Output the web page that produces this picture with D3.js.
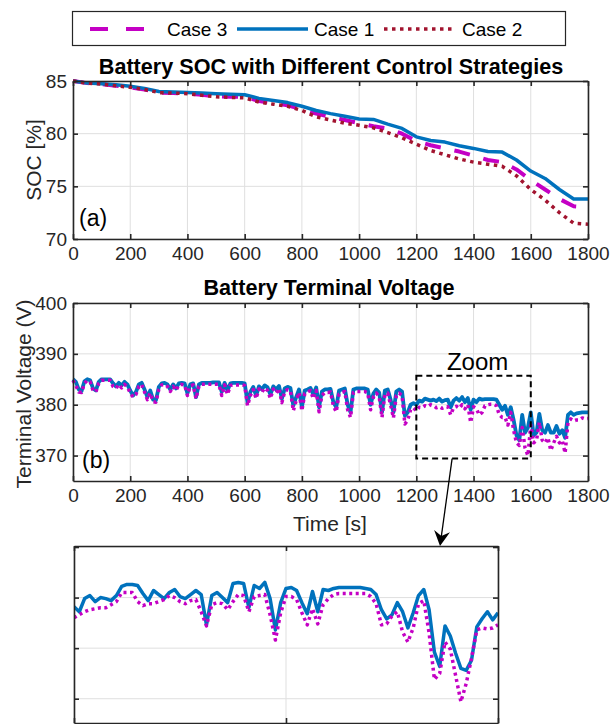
<!DOCTYPE html>
<html><head><meta charset="utf-8">
<script src="https://cdn.jsdelivr.net/npm/d3@7"></script>
<style>
body{margin:0;background:#fff;}
svg{display:block;font-family:"Liberation Sans",Arial,Helvetica,sans-serif;}
</style></head><body>
<svg id="chart" width="612" height="724"></svg>
<script>
// ---------------- DATA ----------------
const seriesNames = ["Case 3", "Case 1", "Case 2"];
const xTicks = [0,200,400,600,800,1000,1200,1400,1600,1800];
const socTicks = [70,75,80,85];
const voltTicks = [370,380,390,400];
const insetYTicks = [370,375,380,385];
const insetXTicks = [1200,1400,1600];

// SOC sampled every 50 s
const socTime = d3.range(0, 1801, 50);
const socCase1 = [85.0,84.8,84.75,84.65,84.5,84.3,84.0,83.95,83.9,83.85,83.8,83.75,83.7,83.35,83.15,82.95,82.6,82.2,81.9,81.65,81.4,81.35,80.9,80.5,79.7,79.35,79.2,78.85,78.6,78.3,78.25,77.5,76.45,75.75,74.7,73.8,73.8];
const socCase3 = [85.0,84.8,84.7,84.55,84.4,84.2,83.9,83.85,83.8,83.7,83.55,83.5,83.5,83.1,82.9,82.7,82.3,81.9,81.6,81.3,81.0,80.7,80.5,80.0,79.3,78.9,78.6,78.3,77.9,77.5,77.3,76.6,75.6,74.7,73.8,73.1,73.0];
const socCase2 = [85.0,84.8,84.7,84.55,84.4,84.2,83.9,83.85,83.8,83.65,83.5,83.45,83.4,83.0,82.8,82.6,82.2,81.6,81.3,81.0,80.8,80.55,80.1,79.6,79.0,78.4,78.0,77.6,77.3,77.1,76.9,76.0,74.7,73.7,72.5,71.5,71.4];

// Terminal voltage sampled every 10 s
const voltTime = d3.range(0, 1801, 10);
const voltCase1 = [
385.0,384.5,383.0,382.7,384.6,385.0,384.8,383.2,382.8,384.5,
385.0,385.0,385.0,385.0,384.2,383.6,384.3,383.8,384.5,384.0,
382.8,381.8,382.5,384.0,384.3,383.0,381.5,382.8,381.0,380.9,
383.5,384.2,384.3,384.0,383.0,384.0,383.2,384.2,384.3,384.2,
382.2,384.0,384.2,381.5,384.0,384.3,384.3,384.3,384.3,384.4,
384.4,384.4,382.5,384.3,382.8,384.2,384.3,384.3,384.3,384.3,
384.2,380.5,382.5,383.5,381.8,383.6,383.0,383.8,383.4,382.0,
383.6,383.0,383.7,381.2,383.2,383.5,383.3,379.8,381.5,383.0,
379.5,382.8,383.0,383.3,382.0,383.4,379.5,382.6,383.0,383.0,
383.1,380.5,379.5,382.8,383.0,383.2,380.0,378.5,383.0,383.2,
383.2,383.2,383.2,383.0,380.0,382.2,383.0,382.4,378.5,382.8,
383.0,381.0,378.5,382.6,383.0,382.6,377.8,378.5,380.0,380.3,
380.0,380.8,380.6,381.2,381.0,380.8,381.0,380.7,381.2,380.6,
380.9,381.0,379.5,380.8,381.3,380.8,381.5,380.5,381.3,379.0,
381.0,380.5,381.2,381.0,381.1,381.1,381.1,381.1,381.0,380.0,
379.0,379.8,378.0,379.5,377.0,374.0,373.0,378.0,374.5,375.5,
378.5,374.0,374.5,378.2,375.0,374.5,376.0,374.5,374.5,375.8,
374.3,375.0,373.5,378.0,378.5,378.0,378.3,378.4,378.5,378.5,
378.5];
const voltCase3 = [
384.8,383.8,382.5,382.4,384.2,384.8,384.5,382.8,382.5,384.2,
384.8,384.8,384.8,384.8,383.6,383.2,384.0,383.3,384.0,383.5,
382.3,381.5,382.0,383.6,384.0,382.5,381.0,382.3,380.6,380.5,
383.0,383.9,384.0,383.6,382.6,383.6,382.8,383.9,384.0,383.9,
381.8,383.7,383.9,381.2,383.6,384.0,384.0,384.0,384.0,384.0,
384.0,384.0,381.8,383.9,382.0,383.8,383.9,383.9,383.9,383.9,
383.8,379.8,381.8,383.0,381.2,383.1,382.4,383.3,382.8,381.2,
383.1,382.3,383.2,380.4,382.6,383.0,382.7,378.8,380.8,382.4,
378.8,382.2,382.5,382.8,381.2,382.8,378.6,381.8,382.4,382.4,
382.5,379.8,378.6,382.1,382.4,382.6,379.0,377.5,382.4,382.6,
382.6,382.6,382.6,382.3,379.0,381.5,382.3,381.6,377.5,382.0,
382.3,380.0,377.4,381.8,382.3,381.8,376.2,377.0,379.0,379.4,
378.8,379.5,379.4,379.8,379.6,380.0,379.8,379.4,379.6,379.3,
379.5,379.6,378.0,379.4,379.7,379.3,380.0,379.2,380.0,376.5,
379.6,379.2,378.0,378.5,379.8,380.0,380.1,380.1,379.8,378.0,
377.5,377.5,376.0,378.5,375.0,372.5,372.0,375.5,371.5,370.0,
376.0,372.5,373.0,376.5,373.0,372.5,373.5,371.0,372.5,373.8,
372.5,373.0,370.5,376.5,377.2,376.8,377.0,377.0,377.4,377.2,
377.3];

// Zoomed window 1200-1600 s, sampled every 5 s
const insetTime = d3.range(1200, 1601, 5);
const insetCase1 = [
379.1,378.6,379.9,380.2,379.6,380.0,379.9,379.7,380.2,381.1,
381.3,381.3,381.2,380.4,379.7,380.7,380.3,379.9,380.5,380.8,
380.1,379.9,380.3,380.7,380.3,377.3,380.2,380.5,380.0,379.5,
381.4,381.5,381.4,379.0,381.2,380.9,381.5,379.9,376.8,379.5,
380.9,381.0,380.7,379.5,378.4,380.6,378.6,380.8,380.7,380.9,
381.0,381.0,381.0,381.0,381.0,380.9,380.8,380.3,378.8,377.9,
378.3,379.5,378.6,377.0,378.5,380.2,380.8,378.8,374.6,373.2,
377.2,376.2,374.5,373.0,372.8,373.8,377.1,377.9,378.6,377.8,
378.5];
const insetCase3 = [
378.0,378.3,378.6,378.8,378.9,379.0,379.0,379.3,379.6,380.5,
380.5,380.5,379.6,379.2,379.4,379.4,379.6,379.8,380.2,380.0,
379.6,379.4,379.7,379.8,378.6,377.2,379.3,379.5,379.4,378.8,
379.6,380.3,380.2,378.6,380.1,380.2,380.3,378.3,375.8,378.5,
380.1,380.1,379.8,378.5,377.3,378.9,377.4,379.3,379.9,380.3,
380.4,380.4,380.4,380.4,380.4,380.4,380.1,379.4,377.3,377.4,
378.2,378.6,376.6,375.6,377.0,379.4,379.7,376.5,371.9,372.5,
375.6,374.9,372.3,369.7,371.5,374.0,376.8,377.0,376.9,377.0,
377.3];

// zoom box in data coordinates [t0, t1, v0, v1]
const zoomBox = [1200, 1600, 369.4, 385.7];

// ---------------- STYLE ----------------
const C1 = "#0072BD", C3 = "#C400C4", C2 = "#A2142F";
const AX = "#262626", GRID = "#dfdfdf";
const svg = d3.select("#chart");

const xMain = d3.scaleLinear().domain([0,1800]).range([73,588]);
const ySoc = d3.scaleLinear().domain([70,85]).range([239,81]);
const yVolt = d3.scaleLinear().domain([365,400]).range([481,303]);
const xIn = d3.scaleLinear().domain([1200,1600]).range([74,498]);
const yIn = d3.scaleLinear().domain([367.6,385.1]).range([723,546]);

function grid(g, x, y, xt, yt){
  const [x0,x1] = x.range(), [y1,y0] = y.range();
  g.selectAll(".gx").data(xt).join("line")
    .attr("x1", d=>x(d)).attr("x2", d=>x(d)).attr("y1", y0).attr("y2", y1)
    .attr("stroke", GRID).attr("stroke-width", 1);
  g.selectAll(".gy").data(yt).join("line")
    .attr("class","gyl")
    .attr("y1", d=>y(d)).attr("y2", d=>y(d)).attr("x1", x0).attr("x2", x1)
    .attr("stroke", GRID).attr("stroke-width", 1);
}

function axes(g, x, y, xt, yt, xLab, yLab){
  const [x0,x1] = x.range(), [y1,y0] = y.range();
  const styleAx = sel => {
    sel.attr("font-size", null).attr("font-family", null);
    sel.select(".domain").attr("stroke", AX).attr("stroke-width", 1.6);
    sel.selectAll(".tick line").attr("stroke", AX).attr("stroke-width", 1.6);
    sel.selectAll(".tick text").attr("fill", AX).style("font-size", "19px");
  };
  g.append("g").attr("transform", `translate(0,${y1})`)
    .call(d3.axisBottom(x).tickValues(xt).tickSizeInner(-5).tickSizeOuter(0).tickPadding(8)
      .tickFormat(xLab ? d3.format("d") : ""))
    .call(styleAx);
  g.append("g").attr("transform", `translate(0,${y0})`)
    .call(d3.axisTop(x).tickValues(xt).tickSizeInner(-5).tickSizeOuter(0).tickFormat(""))
    .call(styleAx);
  g.append("g").attr("transform", `translate(${x0},0)`)
    .call(d3.axisLeft(y).tickValues(yt).tickSizeInner(-5).tickSizeOuter(0).tickPadding(6)
      .tickFormat(yLab ? d3.format("d") : ""))
    .call(styleAx);
  g.append("g").attr("transform", `translate(${x1},0)`)
    .call(d3.axisRight(y).tickValues(yt).tickSizeInner(-5).tickSizeOuter(0).tickFormat(""))
    .call(styleAx);
}

function line(g, xs, ys, x, y, color, width, dash){
  const data = xs.map((t,i)=>[t, ys[i]]);
  g.append("path").datum(data)
    .attr("fill","none").attr("stroke", color).attr("stroke-width", width)
    .attr("stroke-linejoin","round")
    .attr("stroke-dasharray", dash || null)
    .attr("d", d3.line().x(d=>x(d[0])).y(d=>y(d[1])));
}

// ---------------- PANEL (a) ----------------
const gA = svg.append("g");
grid(gA, xMain, ySoc, xTicks, socTicks);
line(gA, socTime, socCase3, xMain, ySoc, C3, 4, "16,14");
line(gA, socTime, socCase1, xMain, ySoc, C1, 3.5);
line(gA, socTime, socCase2, xMain, ySoc, C2, 3.5, "3.5,4.5");
axes(gA, xMain, ySoc, xTicks, socTicks, true, true);
gA.append("text").attr("x", 331).attr("y", 74).attr("text-anchor","middle")
  .attr("font-weight","bold").attr("font-size", 21.6).attr("fill","#000")
  .text("Battery SOC with Different Control Strategies");
gA.append("text").attr("transform","translate(41,160) rotate(-90)").attr("text-anchor","middle")
  .attr("font-size", 21).attr("fill", AX).text("SOC [%]");
gA.append("text").attr("x", 79).attr("y", 226).attr("font-size", 23).attr("fill","#000").text("(a)");

// ---------------- PANEL (b) ----------------
const gB = svg.append("g");
grid(gB, xMain, yVolt, xTicks, voltTicks);
line(gB, voltTime, voltCase1, xMain, yVolt, C1, 3.8);
line(gB, voltTime, voltCase3, xMain, yVolt, C3, 3.5, "3,3.5");
axes(gB, xMain, yVolt, xTicks, voltTicks, true, true);
gB.append("text").attr("x", 329).attr("y", 295).attr("text-anchor","middle")
  .attr("font-weight","bold").attr("font-size", 21.6).attr("fill","#000")
  .text("Battery Terminal Voltage");
gB.append("text").attr("transform","translate(31,394) rotate(-90)").attr("text-anchor","middle")
  .attr("font-size", 21).attr("fill", AX).text("Terminal Voltage (V)");
gB.append("text").attr("x", 330).attr("y", 531).attr("text-anchor","middle")
  .attr("font-size", 21).attr("fill", AX).text("Time [s]");
gB.append("text").attr("x", 82).attr("y", 468).attr("font-size", 23).attr("fill","#000").text("(b)");

// zoom box
gB.append("rect")
  .attr("x", xMain(zoomBox[0])).attr("y", yVolt(zoomBox[3]))
  .attr("width", xMain(zoomBox[1]) - xMain(zoomBox[0]))
  .attr("height", yVolt(zoomBox[2]) - yVolt(zoomBox[3]))
  .attr("fill","none").attr("stroke","#000").attr("stroke-width", 2).attr("stroke-dasharray","6,4");
gB.append("text").attr("x", (xMain(zoomBox[0])+xMain(zoomBox[1]))/2 + 4).attr("y", 370)
  .attr("text-anchor","middle").attr("font-size", 24).attr("fill","#000").text("Zoom");

// arrow
const ax0 = xMain(1325), ay0 = yVolt(zoomBox[2]);
const ax1 = 440, ay1 = yIn.range()[1];
const len = Math.hypot(ax1-ax0, ay1-ay0), ux = (ax1-ax0)/len, uy = (ay1-ay0)/len;
const px = -uy, py = ux;
svg.append("line").attr("x1", ax0).attr("y1", ay0).attr("x2", ax1 - 8*ux).attr("y2", ay1 - 8*uy)
  .attr("stroke","#000").attr("stroke-width", 1.3);
svg.append("path").attr("fill","#000")
  .attr("d", `M${ax1},${ay1} L${ax1-15*ux+8*px},${ay1-15*uy+8*py} L${ax1-10*ux},${ay1-10*uy} L${ax1-15*ux-8*px},${ay1-15*uy-8*py} Z`);

// ---------------- INSET ----------------
const gI = svg.append("g");
svg.append("defs").append("clipPath").attr("id","clipIn").append("rect")
  .attr("x", 74).attr("y", 546).attr("width", 424).attr("height", 177);
grid(gI, xIn, yIn, insetXTicks, insetYTicks);
const gIL = gI.append("g").attr("clip-path","url(#clipIn)");
line(gIL, insetTime, insetCase1, xIn, yIn, C1, 3.5);
line(gIL, insetTime, insetCase3, xIn, yIn, C3, 3.5, "3,3.5");
axes(gI, xIn, yIn, insetXTicks, insetYTicks, false, false);

// ---------------- LEGEND ----------------
const lg = svg.append("g");
lg.append("rect").attr("x", 72.5).attr("y", 11.5).attr("width", 493).attr("height", 34)
  .attr("fill","#fff").attr("stroke", AX).attr("stroke-width", 1.2);
const legendItems = [
  {name: seriesNames[0], color: C3, dash: "18,18", w: 4, x0: 90, x1: 144, tx: 167},
  {name: seriesNames[1], color: C1, dash: null, w: 3.5, x0: 237, x1: 308, tx: 314},
  {name: seriesNames[2], color: C2, dash: "3.5,4.5", w: 3.5, x0: 384, x1: 452, tx: 462}
];
legendItems.forEach(it=>{
  lg.append("line").attr("x1", it.x0).attr("x2", it.x1).attr("y1", 29).attr("y2", 29)
    .attr("stroke", it.color).attr("stroke-width", it.w).attr("stroke-dasharray", it.dash);
  lg.append("text").attr("x", it.tx).attr("y", 36).attr("font-size", 19).attr("fill","#000").text(it.name);
});
</script>
</body></html>
